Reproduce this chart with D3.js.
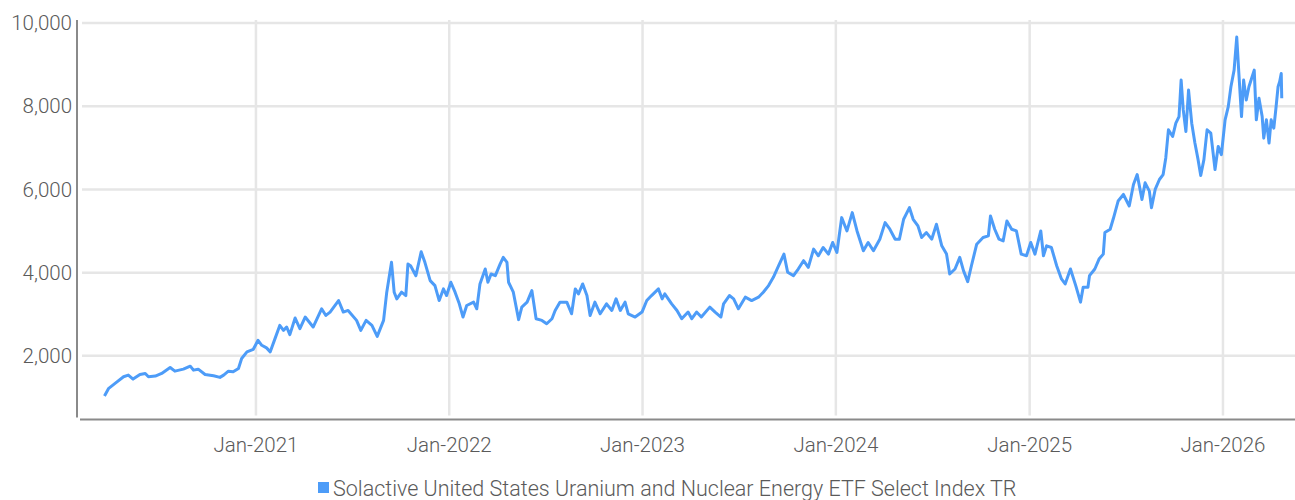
<!DOCTYPE html>
<html lang="en">
<head>
    <meta charset="UTF-8">
    <title>Solactive Uranium and Nuclear Energy Index</title>
    <script src="https://d3js.org/d3.v7.min.js"></script>
    <style>
        body {
            background-color: white;
            margin: 0;
            padding: 0;
            font-family: 'Roboto', sans-serif;
        }
        .grid line {
            stroke: #e6e6e6;
            stroke-width: 2.5px;
        }
        .axis-line {
            stroke: #8a8a8a;
            stroke-width: 2px;
        }
        .tick-label {
            font-size: 20.5px;
            font-weight: 300;
            fill: #5a5a5a;
        }
        .series {
            fill: none;
            stroke: #4d9cf8;
            stroke-width: 3px;
            stroke-linejoin: round;
        }
        .legend-label {
            font-size: 21.5px;
            font-weight: 300;
            fill: #5a5a5a;
        }
    </style>
</head>
<body>
    <script>
        // index levels, one array per year
        var data2020 = [
            ["2020-03-21", 1035], ["2020-03-29", 1219], ["2020-04-10", 1338], ["2020-04-26", 1498],
            ["2020-05-05", 1537], ["2020-05-14", 1441], ["2020-05-27", 1553], ["2020-06-06", 1577],
            ["2020-06-12", 1498], ["2020-06-25", 1513], ["2020-07-07", 1577], ["2020-07-23", 1721],
            ["2020-08-01", 1632], ["2020-08-17", 1680], ["2020-08-30", 1752], ["2020-09-05", 1656],
            ["2020-09-14", 1680], ["2020-09-27", 1553], ["2020-10-13", 1522], ["2020-10-25", 1482],
            ["2020-11-01", 1537], ["2020-11-10", 1632], ["2020-11-19", 1617], ["2020-11-29", 1697],
            ["2020-12-05", 1936], ["2020-12-15", 2096], ["2020-12-27", 2158]
        ];
        var data2021 = [
            ["2021-01-05", 2373], ["2021-01-12", 2254], ["2021-01-21", 2191], ["2021-01-28", 2096],
            ["2021-02-06", 2414], ["2021-02-15", 2732], ["2021-02-22", 2612], ["2021-02-28", 2693],
            ["2021-03-06", 2510], ["2021-03-16", 2909], ["2021-03-25", 2653], ["2021-04-04", 2933],
            ["2021-04-19", 2693], ["2021-05-05", 3131], ["2021-05-13", 2971], ["2021-05-21", 3052],
            ["2021-06-06", 3329], ["2021-06-15", 3052], ["2021-06-24", 3091], ["2021-07-10", 2852],
            ["2021-07-18", 2612], ["2021-07-28", 2852], ["2021-08-08", 2732], ["2021-08-18", 2469],
            ["2021-08-30", 2852], ["2021-09-05", 3530], ["2021-09-14", 4247], ["2021-09-19", 3530],
            ["2021-09-24", 3370], ["2021-10-03", 3530], ["2021-10-11", 3449], ["2021-10-15", 4206],
            ["2021-10-20", 4166], ["2021-10-30", 3927], ["2021-11-09", 4500], ["2021-11-16", 4247],
            ["2021-11-26", 3807], ["2021-12-05", 3688], ["2021-12-13", 3329], ["2021-12-21", 3609],
            ["2021-12-27", 3449]
        ];
        var data2022 = [
            ["2022-01-04", 3769], ["2022-01-12", 3530], ["2022-01-20", 3250], ["2022-01-27", 2933],
            ["2022-02-03", 3210], ["2022-02-16", 3291], ["2022-02-22", 3131], ["2022-02-28", 3728],
            ["2022-03-10", 4087], ["2022-03-15", 3769], ["2022-03-21", 3967], ["2022-03-29", 3927],
            ["2022-04-07", 4206], ["2022-04-13", 4366], ["2022-04-20", 4247], ["2022-04-23", 3769],
            ["2022-05-02", 3530], ["2022-05-12", 2870], ["2022-05-18", 3171], ["2022-05-28", 3291],
            ["2022-06-06", 3569], ["2022-06-14", 2892], ["2022-06-25", 2852], ["2022-07-04", 2772],
            ["2022-07-14", 2892], ["2022-07-20", 3091], ["2022-07-29", 3291], ["2022-08-11", 3291],
            ["2022-08-20", 3011], ["2022-08-27", 3609], ["2022-09-02", 3489], ["2022-09-10", 3728],
            ["2022-09-18", 3449], ["2022-09-24", 2971], ["2022-10-03", 3291], ["2022-10-13", 3011],
            ["2022-10-25", 3250], ["2022-11-04", 3091], ["2022-11-12", 3370], ["2022-11-20", 3091],
            ["2022-11-29", 3291], ["2022-12-05", 3011], ["2022-12-18", 2933], ["2022-12-31", 3052]
        ];
        var data2023 = [
            ["2023-01-09", 3329], ["2023-01-18", 3449], ["2023-01-31", 3609], ["2023-02-07", 3370],
            ["2023-02-12", 3489], ["2023-02-25", 3250], ["2023-03-07", 3091], ["2023-03-16", 2892],
            ["2023-03-28", 3052], ["2023-04-04", 2892], ["2023-04-13", 3052], ["2023-04-22", 2933],
            ["2023-05-08", 3171], ["2023-05-18", 3052], ["2023-05-29", 2933], ["2023-06-03", 3250],
            ["2023-06-14", 3449], ["2023-06-22", 3370], ["2023-07-01", 3131], ["2023-07-14", 3410],
            ["2023-07-26", 3329], ["2023-08-08", 3410], ["2023-08-17", 3530], ["2023-08-27", 3688],
            ["2023-09-05", 3887], ["2023-09-15", 4166], ["2023-09-25", 4445], ["2023-10-02", 4008],
            ["2023-10-13", 3927], ["2023-10-22", 4087], ["2023-11-01", 4287], ["2023-11-10", 4127],
            ["2023-11-20", 4565], ["2023-11-29", 4405], ["2023-12-08", 4605], ["2023-12-18", 4445],
            ["2023-12-26", 4725]
        ];
        var data2024 = [
            ["2024-01-03", 4485], ["2024-01-12", 5322], ["2024-01-22", 5002], ["2024-02-01", 5442],
            ["2024-02-10", 5002], ["2024-02-22", 4525], ["2024-03-02", 4725], ["2024-03-12", 4525],
            ["2024-03-24", 4804], ["2024-04-03", 5203], ["2024-04-12", 5043], ["2024-04-22", 4804],
            ["2024-04-30", 4804], ["2024-05-08", 5282], ["2024-05-19", 5561], ["2024-05-26", 5282],
            ["2024-06-04", 5123], ["2024-06-11", 4844], ["2024-06-20", 4963], ["2024-06-30", 4804],
            ["2024-07-09", 5162], ["2024-07-19", 4645], ["2024-07-28", 4445], ["2024-08-03", 3967],
            ["2024-08-13", 4087], ["2024-08-22", 4366], ["2024-08-29", 4048], ["2024-09-06", 3784],
            ["2024-09-13", 4166], ["2024-09-23", 4684], ["2024-10-05", 4844], ["2024-10-15", 4884],
            ["2024-10-19", 5362], ["2024-10-27", 5043], ["2024-11-04", 4804], ["2024-11-12", 4764],
            ["2024-11-19", 5243], ["2024-11-28", 5043], ["2024-12-07", 5002], ["2024-12-16", 4445],
            ["2024-12-26", 4405]
        ];
        var data2025 = [
            ["2025-01-03", 4725], ["2025-01-11", 4445], ["2025-01-22", 5002], ["2025-01-27", 4405],
            ["2025-02-02", 4645], ["2025-02-11", 4605], ["2025-02-21", 4166], ["2025-03-02", 3848],
            ["2025-03-09", 3728], ["2025-03-19", 4087], ["2025-03-29", 3688], ["2025-04-07", 3291],
            ["2025-04-12", 3649], ["2025-04-21", 3649], ["2025-04-24", 3927], ["2025-05-04", 4087],
            ["2025-05-12", 4326], ["2025-05-20", 4445], ["2025-05-23", 4964], ["2025-06-02", 5043],
            ["2025-06-08", 5300], ["2025-06-17", 5721], ["2025-06-27", 5879], ["2025-07-08", 5601],
            ["2025-07-16", 6118], ["2025-07-23", 6357], ["2025-08-01", 5760], ["2025-08-07", 6158],
            ["2025-08-15", 5959], ["2025-08-19", 5561], ["2025-08-26", 5999], ["2025-09-03", 6238],
            ["2025-09-10", 6357], ["2025-09-15", 6756], ["2025-09-20", 7433], ["2025-09-28", 7273],
            ["2025-10-04", 7592], ["2025-10-10", 7751], ["2025-10-14", 8628], ["2025-10-18", 7911],
            ["2025-10-23", 7392], ["2025-10-28", 8389], ["2025-11-03", 7592], ["2025-11-09", 7114],
            ["2025-11-15", 6716], ["2025-11-20", 6334], ["2025-11-26", 6716], ["2025-12-02", 7433],
            ["2025-12-09", 7353], ["2025-12-17", 6477], ["2025-12-23", 7034], ["2025-12-29", 6835]
        ];
        var data2026 = [
            ["2026-01-05", 7672], ["2026-01-11", 7990], ["2026-01-16", 8467], ["2026-01-22", 8867],
            ["2026-01-27", 9663], ["2026-01-31", 8788], ["2026-02-05", 7751], ["2026-02-09", 8628],
            ["2026-02-14", 8150], ["2026-02-19", 8467], ["2026-02-24", 8667], ["2026-03-01", 8867],
            ["2026-03-05", 7672], ["2026-03-10", 8190], ["2026-03-16", 7751], ["2026-03-19", 7233],
            ["2026-03-24", 7672], ["2026-03-29", 7114], ["2026-04-02", 7672], ["2026-04-07", 7472],
            ["2026-04-11", 7951], ["2026-04-15", 8467], ["2026-04-18", 8587], ["2026-04-21", 8788],
            ["2026-04-22", 8190]
        ];

        var yTicks = [2000, 4000, 6000, 8000, 10000];
        var xTicks = ["2021-01-01", "2022-01-01", "2023-01-01", "2024-01-01", "2025-01-01", "2026-01-01"];
        var xDomain = ["2020-01-31", "2026-05-17"];
        var yDomain = [470, 10000];
        var seriesName = "Solactive United States Uranium and Nuclear Energy ETF Select Index TR";

        var width = 1295, height = 500;
        var margin = {left: 78, right: 0, top: 23, bottom: 80};

        var parse = d3.timeParse("%Y-%m-%d");
        var series = [].concat(data2020, data2021, data2022, data2023, data2024, data2025, data2026)
            .map(function(d) { return {date: parse(d[0]), value: d[1]}; });

        var svg = d3.select("body").append("svg")
            .attr("width", width)
            .attr("height", height);

        var x = d3.scaleTime()
            .domain(xDomain.map(parse))
            .range([margin.left, width - margin.right]);

        var y = d3.scaleLinear()
            .domain(yDomain)
            .range([height - margin.bottom - 0.5, margin.top]);

        // gridlines
        var grid = svg.append("g").attr("class", "grid");
        grid.selectAll(".hgrid")
            .data(yTicks)
            .enter().append("line")
            .attr("class", "hgrid")
            .attr("x1", margin.left + 4)
            .attr("x2", width)
            .attr("y1", function(d) { return y(d); })
            .attr("y2", function(d) { return y(d); });

        grid.selectAll(".vgrid")
            .data(xTicks)
            .enter().append("line")
            .attr("class", "vgrid")
            .attr("x1", function(d) { return x(parse(d)); })
            .attr("x2", function(d) { return x(parse(d)); })
            .attr("y1", y(10000) - 3)
            .attr("y2", y(yDomain[0]) - 4);

        // axis lines
        svg.append("line")
            .attr("class", "axis-line")
            .attr("x1", margin.left - 1)
            .attr("x2", margin.left - 1)
            .attr("y1", y(10000) - 3)
            .attr("y2", y(yDomain[0]) - 2);

        svg.append("line")
            .attr("class", "axis-line")
            .attr("x1", margin.left + 2)
            .attr("x2", width)
            .attr("y1", y(yDomain[0]))
            .attr("y2", y(yDomain[0]));

        // tick labels
        svg.selectAll(".ylabel")
            .data(yTicks)
            .enter().append("text")
            .attr("class", "tick-label")
            .attr("x", margin.left - 6)
            .attr("y", function(d) { return y(d); })
            .attr("dy", "0.35em")
            .attr("text-anchor", "end")
            .text(function(d) { return d3.format(",")(d); });

        svg.selectAll(".xlabel")
            .data(xTicks)
            .enter().append("text")
            .attr("class", "tick-label")
            .attr("x", function(d) { return x(parse(d)); })
            .attr("y", y(yDomain[0]) + 32)
            .attr("text-anchor", "middle")
            .text(function(d) { return d3.timeFormat("%b-%Y")(parse(d)); });

        // the series line
        var line = d3.line()
            .x(function(d) { return x(d.date); })
            .y(function(d) { return y(d.value); });

        svg.append("path")
            .datum(series)
            .attr("class", "series")
            .attr("d", line);

        // legend
        var legend = svg.append("g");
        legend.append("text")
            .attr("class", "legend-label")
            .attr("x", 333)
            .attr("y", 496)
            .text(seriesName);
        legend.append("rect")
            .attr("x", 318)
            .attr("y", 482)
            .attr("width", 11)
            .attr("height", 11)
            .attr("fill", "#4d9cf8");
    </script>
</body>
</html>
